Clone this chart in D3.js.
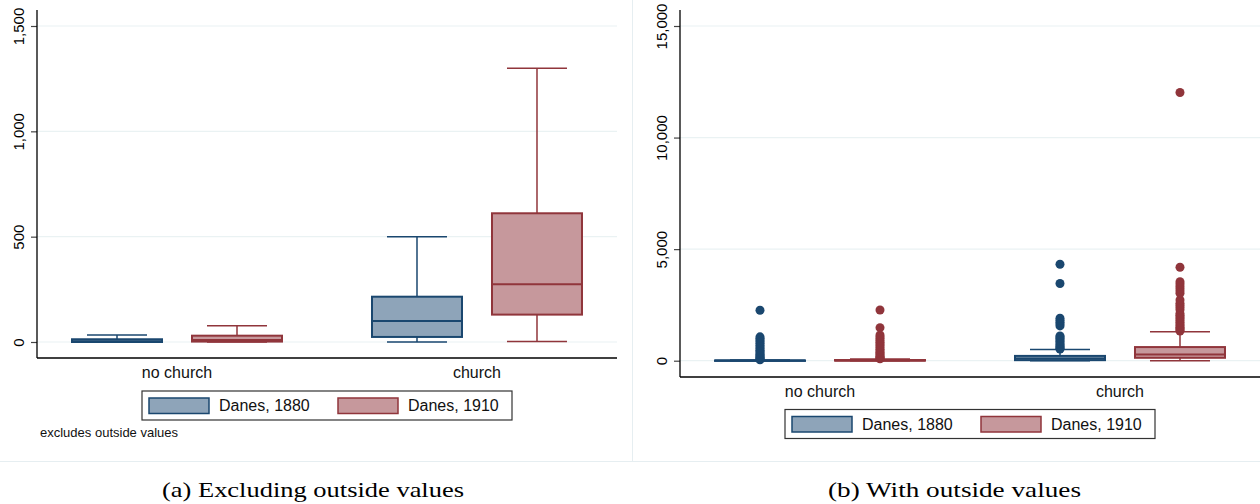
<!DOCTYPE html>
<html>
<head>
<meta charset="utf-8">
<script src="https://cdn.jsdelivr.net/npm/d3@7"></script>
<style>
  body { margin: 0; background: #fff; }
  svg { display: block; }
</style>
</head>
<body>
<script>
//Width and height
var w = 1260;
var h = 504;

var categories = ["no church", "church"];
var seriesNames = ["Danes, 1880", "Danes, 1910"];

// box stats, one entry per category: [no church, church]
var low1880 = [0, 0];
var q1_1880 = [0, 24];
var med1880 = [4, 100];
var q3_1880 = [13, 215];
var high1880 = [33, 500];

var low1910 = [0, 2];
var q1_1910 = [2, 130];
var med1910 = [10, 274];
var q3_1910 = [30, 611];
var high1910 = [77, 1300];

// outside values (only shown in panel b)
var out1880 = [
    [40, 70, 100, 140, 180, 230, 280, 340, 400, 470, 540, 610, 690, 770, 850, 930, 1000, 1070, 2260],
    [520, 560, 610, 660, 720, 790, 860, 930, 1000, 1060, 1110, 1560, 1640, 1720, 1810, 1900, 3460, 4320]
];
var out1910 = [
    [85, 110, 150, 200, 250, 310, 370, 440, 510, 590, 670, 750, 830, 910, 990, 1070, 1150, 1480, 2270],
    [1330, 1380, 1440, 1500, 1570, 1640, 1720, 1800, 1880, 1960, 2040, 2120, 2280, 2380, 2480, 2580, 2720,
     3020, 3120, 3220, 3330, 3440, 3540, 4190, 12020]
];

var ticksA = [0, 500, 1000, 1500];
var ticksB = [0, 5000, 10000, 15000];

var lineColors = ["#1a476f", "#90353b"];
var fillColors = ["#8ea4b9", "#c6989c"];
var gridColor = "#eaf2f3";

// one row per series / category
var boxes = [];
categories.forEach(function(c, i) {
    boxes.push({cat: c, s: seriesNames[0], k: 0, low: low1880[i], q1: q1_1880[i], med: med1880[i], q3: q3_1880[i], high: high1880[i], out: out1880[i]});
    boxes.push({cat: c, s: seriesNames[1], k: 1, low: low1910[i], q1: q1_1910[i], med: med1910[i], q3: q3_1910[i], high: high1910[i], out: out1910[i]});
});

//Create SVG element
var svg = d3.select("body")
    .append("svg")
    .attr("width", w)
    .attr("height", h);

svg.append("rect").attr("width", w).attr("height", h).attr("fill", "#fff");

// panel borders
svg.append("line")
    .attr("x1", 632.5).attr("x2", 632.5).attr("y1", 0).attr("y2", 461)
    .attr("stroke", "#e6eef1").attr("stroke-width", 1);
svg.append("line")
    .attr("x1", 0).attr("x2", w).attr("y1", 461.5).attr("y2", 461.5)
    .attr("stroke", "#e6eef1").attr("stroke-width", 1);

function drawPanel(opt) {
    var g = svg.append("g");

    var xScale = d3.scaleBand()
        .domain(categories)
        .range([opt.left, opt.right])
        .paddingInner(0.3)
        .paddingOuter(0.1167);

    var sScale = d3.scaleBand()
        .domain(seriesNames)
        .range([0, xScale.bandwidth()])
        .paddingInner(0.25)
        .paddingOuter(0);

    var yScale = d3.scaleLinear()
        .domain([0, opt.ticks[opt.ticks.length - 1]])
        .range([opt.zeroY, 26]);

    // gridlines
    g.selectAll(".grid")
        .data(opt.ticks)
        .enter()
        .append("line")
        .attr("x1", opt.left)
        .attr("x2", opt.right)
        .attr("y1", function(d) { return yScale(d); })
        .attr("y2", function(d) { return yScale(d); })
        .attr("stroke", gridColor)
        .attr("stroke-width", 1.2);

    // y axis
    var yAxis = d3.axisLeft(yScale)
        .tickValues(opt.ticks)
        .tickSize(6)
        .tickFormat(d3.format(","));

    var ax = g.append("g")
        .attr("transform", "translate(" + opt.left + ",0)")
        .call(yAxis);
    ax.select(".domain").remove();
    ax.selectAll(".tick line").attr("stroke", "#444").attr("stroke-width", 1.2);
    ax.selectAll(".tick text")
        .attr("x", null)
        .attr("dy", null)
        .attr("transform", "translate(-13,0) rotate(-90)")
        .attr("text-anchor", "middle")
        .attr("font-family", "'Liberation Sans', Arial, sans-serif")
        .attr("font-size", "15px")
        .attr("fill", "#000");

    // axis lines
    g.append("line")
        .attr("x1", opt.left).attr("x2", opt.left)
        .attr("y1", 10).attr("y2", opt.bottom)
        .attr("stroke", "#000").attr("stroke-width", 1.3);
    g.append("line")
        .attr("x1", opt.left).attr("x2", opt.right)
        .attr("y1", opt.bottom).attr("y2", opt.bottom)
        .attr("stroke", "#000").attr("stroke-width", 1.3);

    // category labels
    g.selectAll(".cat")
        .data(categories)
        .enter()
        .append("text")
        .attr("x", function(d) { return xScale(d) + xScale.bandwidth() / 2; })
        .attr("y", opt.bottom + 19.5)
        .attr("text-anchor", "middle")
        .attr("font-family", "'Liberation Sans', Arial, sans-serif")
        .attr("font-size", "16px")
        .attr("fill", "#111")
        .text(function(d) { return d; });

    var bw = sScale.bandwidth();
    var cap = bw / 3;

    var bx = g.selectAll(".box")
        .data(boxes)
        .enter()
        .append("g")
        .attr("transform", function(d) {
            return "translate(" + (xScale(d.cat) + sScale(d.s) + bw / 2) + ",0)";
        });

    // whiskers
    bx.append("line")
        .attr("x1", 0).attr("x2", 0)
        .attr("y1", function(d) { return yScale(d.q3); })
        .attr("y2", function(d) { return yScale(d.high); })
        .attr("stroke", function(d) { return lineColors[d.k]; })
        .attr("stroke-width", 1.5);
    bx.append("line")
        .attr("x1", 0).attr("x2", 0)
        .attr("y1", function(d) { return yScale(d.q1); })
        .attr("y2", function(d) { return yScale(d.low); })
        .attr("stroke", function(d) { return lineColors[d.k]; })
        .attr("stroke-width", 1.5);
    ["high", "low"].forEach(function(key) {
        bx.append("line")
            .attr("x1", -cap).attr("x2", cap)
            .attr("y1", function(d) { return yScale(d[key]); })
            .attr("y2", function(d) { return yScale(d[key]); })
            .attr("stroke", function(d) { return lineColors[d.k]; })
            .attr("stroke-width", 1.5);
    });

    // box
    bx.append("rect")
        .attr("x", -bw / 2)
        .attr("width", bw)
        .attr("y", function(d) { return yScale(d.q3); })
        .attr("height", function(d) { return Math.max(0.5, yScale(d.q1) - yScale(d.q3)); })
        .attr("fill", function(d) { return fillColors[d.k]; })
        .attr("stroke", function(d) { return lineColors[d.k]; })
        .attr("stroke-width", 2);
    bx.append("line")
        .attr("x1", -bw / 2).attr("x2", bw / 2)
        .attr("y1", function(d) { return yScale(d.med); })
        .attr("y2", function(d) { return yScale(d.med); })
        .attr("stroke", function(d) { return lineColors[d.k]; })
        .attr("stroke-width", 2);

    // outside values
    if (opt.outliers) {
        bx.selectAll("circle")
            .data(function(d) { return d.out.map(function(v) { return {v: v, k: d.k}; }); })
            .enter()
            .append("circle")
            .attr("cx", 0)
            .attr("cy", function(d) { return yScale(d.v); })
            .attr("r", 4.5)
            .attr("fill", function(d) { return lineColors[d.k]; });
    }

    // legend
    var lg = g.append("g");
    var lx = (opt.left + opt.right) / 2 - 185;
    lg.append("rect")
        .attr("x", lx).attr("y", opt.legendY)
        .attr("width", 370).attr("height", 29)
        .attr("fill", "#fff")
        .attr("stroke", "#333").attr("stroke-width", 1.2);
    seriesNames.forEach(function(s, i) {
        var sx = lx + 7 + i * 189;
        lg.append("rect")
            .attr("x", sx).attr("y", opt.legendY + 7)
            .attr("width", 60).attr("height", 15.5)
            .attr("fill", fillColors[i])
            .attr("stroke", lineColors[i]).attr("stroke-width", 1.5);
        lg.append("text")
            .attr("x", sx + 70).attr("y", opt.legendY + 20)
            .attr("font-family", "'Liberation Sans', Arial, sans-serif")
            .attr("font-size", "16px")
            .attr("fill", "#111")
            .text(s);
    });

    return g;
}

var pa = drawPanel({left: 37, right: 617, zeroY: 342, bottom: 358, ticks: ticksA, outliers: false, legendY: 391});
var pb = drawPanel({left: 680, right: 1260, zeroY: 360.7, bottom: 377, ticks: ticksB, outliers: true, legendY: 409.5});

pa.append("text")
    .attr("x", 40).attr("y", 437)
    .attr("font-family", "'Liberation Sans', Arial, sans-serif")
    .attr("font-size", "13px")
    .attr("fill", "#111")
    .text("excludes outside values");

// captions
svg.append("text")
    .attr("x", 162).attr("y", 497)
    .attr("font-family", "'Liberation Serif', 'DejaVu Serif', serif")
    .attr("font-size", "21px")
    .attr("textLength", 302)
    .attr("lengthAdjust", "spacingAndGlyphs")
    .text("(a) Excluding outside values");
svg.append("text")
    .attr("x", 828).attr("y", 497)
    .attr("font-family", "'Liberation Serif', 'DejaVu Serif', serif")
    .attr("font-size", "21px")
    .attr("textLength", 253)
    .attr("lengthAdjust", "spacingAndGlyphs")
    .text("(b) With outside values");
</script>
</body>
</html>
